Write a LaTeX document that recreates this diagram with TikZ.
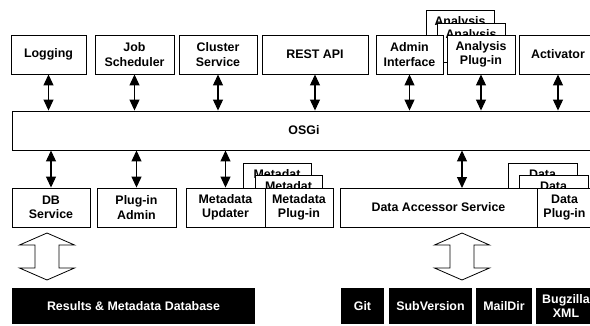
\documentclass[tikz,border=0pt]{standalone}
\usepackage{fontspec}
\setmainfont{Liberation Sans}
\usetikzlibrary{arrows.meta}

\begin{document}
\begin{tikzpicture}[x=1pt, y=-1pt,
box/.style={draw=black, line width=0.9pt, fill=white, align=center, inner sep=0pt, minimum height=39pt, font=\bfseries\fontsize{12.4}{14.5}\selectfont},
store/.style={fill=black, text=white, align=center, inner sep=0pt, minimum height=36pt, font=\bfseries\fontsize{12.4}{14.5}\selectfont},
link/.style={{Triangle[length=11pt,width=10pt]}-{Triangle[length=11pt,width=10pt]}, line width=1.1pt},
hollow/.style={draw=black, line width=0.8pt, fill=white},
]
\path[use as bounding box, clip] (0,0) rectangle (590,325);

%Stacked plug-ins (back copies)
\node[box, minimum width=68pt] (analysisA) at (460,29.5) {Analysis\\\phantom{Plug-in}};
\node[box, minimum width=68pt] (analysisB) at (471,42.5) {Analysis\\\phantom{Plug-in}};
\node[box, minimum width=68pt] (metaA) at (277,182.5) {Metadat\\\phantom{Plug-in}};
\node[box, minimum width=67pt] (metaB) at (288.5,194.5) {Metadat\\\phantom{Plug-in}};
\node[box, minimum width=69pt] (dataA) at (542.5,182.5) {Data\\\phantom{Plug-in}};
\node[box, minimum width=69pt] (dataB) at (553.5,194.5) {Data\\\phantom{Plug-in}};

%Top row
\node[box, minimum width=75pt] (logging) at (48.5,54.5) {Logging};
\node[box, minimum width=79pt] (jobs) at (134.5,54.5) {Job\\Scheduler};
\node[box, minimum width=78pt] (cluster) at (218,54.5) {Cluster\\Service};
\node[box, minimum width=106pt] (rest) at (315,54.5) {REST API};
\node[box, minimum width=67pt] (admin) at (409.5,54.5) {Admin\\Interface};
\node[box, minimum width=68pt] (analysis) at (481,54.5) {Analysis\\Plug-in};
\node[box, minimum width=78pt] (activator) at (558,54.5) {Activator};

%OSGi
\node[box, minimum width=584pt] (osgi) at (304,130.5) {OSGi};

%Bottom row
\node[box, minimum width=78pt] (dbsvc) at (51,207.5) {DB\\Service};
\node[box, minimum width=79pt] (pluginadmin) at (136.5,207.5) {Plug-in\\Admin};
\node[box, minimum width=79pt] (updater) at (225.5,207.5) {Metadata\\Updater};
\node[box, minimum width=68pt] (meta) at (299,207.5) {Metadata\\Plug-in};
\node[box, minimum width=197pt] (accessor) at (438.5,207.5) {Data Accessor Service};
\node[box, minimum width=55pt] (data) at (564.5,207.5) {Data\\Plug-in};

%Storage
\node[store, minimum width=243pt] (results) at (133.5,306) {Results \& Metadata Database};
\node[store, minimum width=43pt] (git) at (362.5,306) {Git};
\node[store, minimum width=83pt] (svn) at (430.5,306) {SubVersion};
\node[store, minimum width=56pt] (maildir) at (504,306) {MailDir};
\node[store, minimum width=60pt] (bugzilla) at (566,306) {Bugzilla\\XML};

%Connections top row -- OSGi
\foreach \n in {logging, jobs, cluster, rest, admin, analysis, activator}
  \draw[link] (\n.south) -- (\n.south |- osgi.north);

%Connections OSGi -- bottom row
\foreach \n in {dbsvc, pluginadmin, updater}
  \draw[link] (osgi.south -| \n.north) -- (\n.north);
\coordinate (accessorlink) at (462,188);
\draw[link] (osgi.south -| accessorlink) -- (accessorlink);

%Storage access
\coordinate (dbflow) at (47,256.5);
\coordinate (dataflow) at (462,256.5);
\foreach \c in {dbflow, dataflow}
  \draw[hollow, shift={(\c)}] (0,-23.5) -- (27.5,-11.5) -- (12,-11.5) -- (12,11.5) -- (27.5,11.5) -- (0,23.5) -- (-27.5,11.5) -- (-12,11.5) -- (-12,-11.5) -- (-27.5,-11.5) -- cycle;
\end{tikzpicture}
\end{document}
